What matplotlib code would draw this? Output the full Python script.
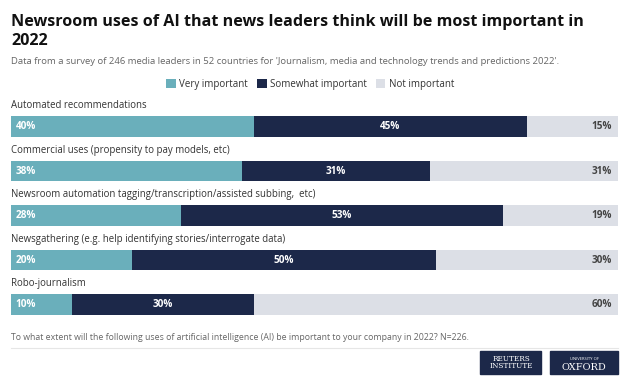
import matplotlib
matplotlib.use("Agg")
import matplotlib.pyplot as plt
from matplotlib.patches import Rectangle, Patch
from matplotlib.lines import Line2D

plt.rcParams['font.family'] = ['Open Sans', 'DejaVu Sans']

categories = [
    "Automated recommendations",
    "Commercial uses (propensity to pay models, etc)",
    "Newsroom automation tagging/transcription/assisted subbing,  etc)",
    "Newsgathering (e.g. help identifying stories/interrogate data)",
    "Robo-journalism",
]
very = [40, 38, 28, 20, 10]
somewhat = [45, 31, 53, 50, 30]
not_imp = [15, 31, 19, 30, 60]
series_names = ["Very important", "Somewhat important", "Not important"]

c_very = "#6aafbb"
c_some = "#1c2849"
c_not = "#dcdfe6"

W, H = 624, 383
fig = plt.figure(figsize=(W / 100, H / 100), dpi=100)
fig.patch.set_facecolor("white")

# axes that holds the bars
ax = fig.add_axes([11 / W, 1 - 320 / H, 607 / W, 220 / H])
ax.set_xlim(0, 100)
ax.set_ylim(4.348, -0.596)
ax.axis("off")

ys = list(range(len(categories)))
bh = 0.47
ax.barh(ys, very, height=bh, color=c_very)
ax.barh(ys, somewhat, left=very, height=bh, color=c_some)
left2 = [a + b for a, b in zip(very, somewhat)]
ax.barh(ys, not_imp, left=left2, height=bh, color=c_not)

for i, cat in enumerate(categories):
    ax.text(0, i - 0.47, cat, ha="left", va="center", fontsize=6.9, color="#333333")
    ax.text(0.8, i, f"{very[i]}%", ha="left", va="center", fontsize=7.2,
            fontweight="bold", color="white")
    ax.text(very[i] + somewhat[i] / 2, i, f"{somewhat[i]}%", ha="center", va="center",
            fontsize=7.2, fontweight="bold", color="white")
    ax.text(99.0, i, f"{not_imp[i]}%", ha="right", va="center", fontsize=7.2,
            fontweight="bold", color="#444444")

# titles
fig.text(11 / W, 1 - 22 / H, "Newsroom uses of AI that news leaders think will be most important in",
         fontsize=11.6, fontweight="bold", color="#111111", va="center")
fig.text(11 / W, 1 - 41 / H, "2022", fontsize=11.6, fontweight="bold", color="#111111", va="center")
fig.text(11 / W, 1 - 62 / H,
         "Data from a survey of 246 media leaders in 52 countries for 'Journalism, media and technology trends and predictions 2022'.",
         fontsize=6.8, color="#666666", va="center")

handles = [Patch(facecolor=c, edgecolor="none") for c in (c_very, c_some, c_not)]
fig.legend(handles, series_names, loc="center", bbox_to_anchor=(0.497, 1 - 84 / H), ncol=3,
           frameon=False, fontsize=7.0, handlelength=1.0, handleheight=1.0,
           handletextpad=0.35, columnspacing=0.9, labelcolor="#333333")

# footnote
fig.text(11 / W, 1 - 338 / H,
         "To what extent will the following uses of artificial intelligence (AI) be important to your company in 2022? N=226.",
         fontsize=6.3, color="#666666", va="center")
fig.add_artist(Line2D([11 / W, 618 / W], [1 - 348 / H, 1 - 348 / H], color="#e6e6e6", lw=0.8))

# logos
fig.add_artist(Rectangle((480 / W, 1 - 374 / H), 61 / W, 23 / H, color=c_some))
fig.text(511 / W, 1 - 362.5 / H, "REUTERS\nINSTITUTE", ha="center", va="center", fontsize=5.2,
         color="white", family="DejaVu Serif", linespacing=0.95)
fig.add_artist(Rectangle((550 / W, 1 - 374 / H), 68 / W, 23 / H, color=c_some))
fig.text(584 / W, 1 - 358.5 / H, "UNIVERSITY OF", ha="center", va="center", fontsize=3.0, color="white")
fig.text(584 / W, 1 - 367 / H, "OXFORD", ha="center", va="center", fontsize=7.0,
         color="white", family="DejaVu Serif")

fig.savefig("out.png", dpi=100, facecolor="white")
